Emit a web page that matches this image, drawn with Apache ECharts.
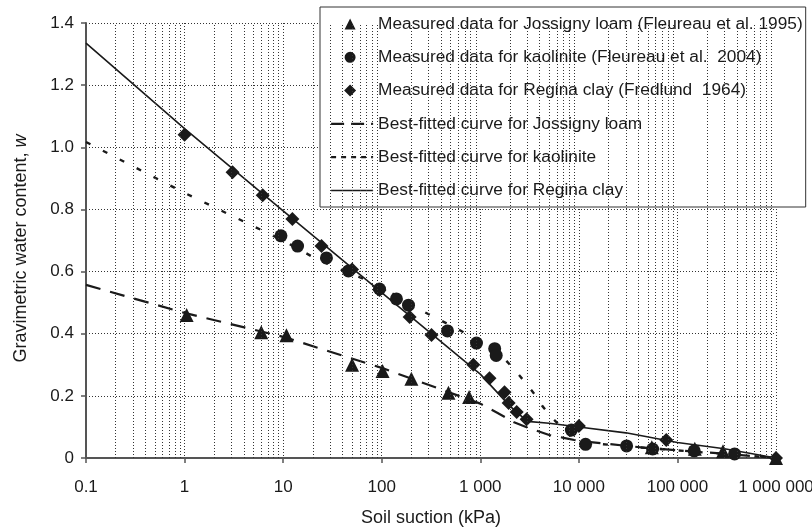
<!DOCTYPE html>
<html>
<head>
<meta charset="utf-8">
<script src="https://cdn.jsdelivr.net/npm/echarts@6/dist/echarts.min.js"></script>
<style>
html,body{margin:0;padding:0;background:#fff;}
#chart{width:812px;height:529px;}
</style>
</head>
<body>
<div id="chart"></div>
<script>
// ---- Data ----
const jossignyX = [1.05, 6, 10.8, 50, 102, 200, 475, 770, 55000, 150000, 290000, 1000000];
const jossignyW = [0.46, 0.405, 0.395, 0.30, 0.28, 0.255, 0.21, 0.196, 0.035, 0.03, 0.022, 0];

const kaoliniteX = [9.5, 14, 27.5, 46, 95, 141, 187, 465, 915, 1400, 1450, 8400, 11700, 30500, 56000, 148000, 380000];
const kaoliniteW = [0.715, 0.682, 0.644, 0.602, 0.544, 0.512, 0.492, 0.409, 0.370, 0.352, 0.330, 0.090, 0.044, 0.039, 0.029, 0.023, 0.013];

const reginaX = [1, 3.07, 6.2, 12.4, 24.5, 50, 95, 192, 320, 850, 1240, 1760, 1940, 2340, 2950, 10000, 77000, 1000000];
const reginaW = [1.04, 0.92, 0.846, 0.769, 0.682, 0.607, 0.541, 0.454, 0.396, 0.30, 0.257, 0.212, 0.177, 0.148, 0.125, 0.103, 0.058, 0];

const fitJossignyX = [0.1, 1, 10, 100, 1000, 1500, 2200, 3000, 5000, 7000, 10000, 20000, 50000, 100000, 250000, 1000000];
const fitJossignyW = [0.557, 0.467, 0.39, 0.29, 0.175, 0.145, 0.115, 0.098, 0.074, 0.065, 0.055, 0.045, 0.032, 0.025, 0.016, 0];

const fitKaoliniteX = [0.1, 1, 10, 20, 35, 70, 100, 225, 615, 1560, 2340, 2880, 3540, 4270, 5400, 8000, 11000, 30000, 60000, 150000, 400000, 1000000];
const fitKaoliniteW = [1.017, 0.853, 0.70, 0.647, 0.611, 0.573, 0.55, 0.483, 0.412, 0.338, 0.276, 0.242, 0.206, 0.167, 0.128, 0.075, 0.05, 0.038, 0.03, 0.02, 0.01, 0];

const fitReginaX = [0.1, 1, 10, 100, 1000, 2000, 3000, 5000, 10000, 30000, 100000, 300000, 1000000];
const fitReginaW = [1.335, 1.06, 0.795, 0.532, 0.27, 0.167, 0.118, 0.112, 0.100, 0.081, 0.05, 0.03, 0];

const xTickValues = [0.1, 1, 10, 100, 1000, 10000, 100000, 1000000];
const xTickLabels = ['0.1', '1', '10', '100', '1 000', '10 000', '100 000', '1 000 000'];

const seriesNames = [
  'Measured data for Jossigny loam (Fleureau et al. 1995)',
  'Measured data for kaolinite (Fleureau et al.  2004)',
  'Measured data for Regina clay (Fredlund  1964)',
  'Best-fitted curve for Jossigny loam',
  'Best-fitted curve for kaolinite',
  'Best-fitted curve for Regina clay'
];

// ---- helpers ----
function pairs(xs, ys) { return xs.map((x, i) => [x, ys[i]]); }
const minorGrid = [];
for (let e = -1; e < 6; e++) {
  for (let m = 2; m <= 9; m++) minorGrid.push({ xAxis: m * Math.pow(10, e) });
}
const FONT = 'Liberation Sans, Arial, sans-serif';
const INK = '#1a1a1a';
const gridDots = { color: '#333', width: 1, type: [1, 2] };
const hiddenSym = { color: 'rgba(0,0,0,0)', borderWidth: 0, opacity: 0 };
// legend icons: a marker inside a 42x12 frame (tiny corner anchors keep the frame size)
const FRAME = ' M0,0 L0.01,0 L0,0.01 Z M42,12 L41.99,12 L42,11.99 Z';
const iconTriangle = 'path://M13.5,11.5 L19,0.5 L24.5,11.5 Z' + FRAME;
const iconCircle = 'path://M13.5,6 A5.5,5.5 0 1 1 24.5,6 A5.5,5.5 0 1 1 13.5,6 Z' + FRAME;
const iconDiamond = 'path://M19,0 L25,6 L19,12 L13,6 Z' + FRAME;

const chart = echarts.init(document.getElementById('chart'), null, { renderer: 'canvas' });
chart.setOption({
  animation: false,
  backgroundColor: '#fff',
  textStyle: { fontFamily: FONT },
  grid: { left: 86, right: 36, top: 23, bottom: 71, containLabel: false, outerBoundsMode: 'none' },
  xAxis: {
    type: 'log', logBase: 10, min: 0.1, max: 1000000, splitNumber: 7,
    name: 'Soil suction (kPa)', nameLocation: 'middle', nameGap: 51,
    nameTextStyle: { fontSize: 18, color: INK, fontFamily: FONT },
    axisLine: { show: true, onZero: false, lineStyle: { color: '#555', width: 2 } },
    axisTick: { show: true, length: 5, lineStyle: { color: '#555', width: 1.5 } },
    axisLabel: {
      fontSize: 17, color: INK, margin: 21, fontFamily: FONT,
      formatter: function (v) {
        for (let i = 0; i < xTickValues.length; i++) {
          if (Math.abs(Math.log10(v) - Math.log10(xTickValues[i])) < 1e-6) return xTickLabels[i];
        }
        return '';
      }
    },
    splitLine: { show: true, lineStyle: gridDots }
  },
  yAxis: {
    type: 'value', min: 0, max: 1.4, interval: 0.2,
    name: '{a|Gravimetric water content, }{b|w}', nameLocation: 'middle', nameGap: 56,
    nameTextStyle: {
      color: INK, fontSize: 18, fontFamily: FONT, padding: [0, 16, 0, 0],
      rich: { a: { fontSize: 18, color: INK, fontFamily: FONT }, b: { fontSize: 18, color: INK, fontStyle: 'italic', fontFamily: FONT } }
    },
    axisLine: { show: true, lineStyle: { color: '#555', width: 2 } },
    axisTick: { show: true, length: 5, lineStyle: { color: '#555', width: 1.5 } },
    axisLabel: {
      fontSize: 17, color: INK, margin: 12, fontFamily: FONT,
      formatter: function (v) { return v === 0 ? '0' : v.toFixed(1); }
    },
    splitLine: { show: true, lineStyle: gridDots }
  },
  legend: {
    orient: 'vertical', left: 320, top: 7,
    padding: [8.5, 3, 8, 10],
    backgroundColor: '#fff', borderColor: '#333', borderWidth: 1, borderRadius: 0,
    itemWidth: 42, itemHeight: 12, itemGap: 16.3, symbolKeepAspect: true,
    textStyle: { fontSize: 17.3, color: INK, fontFamily: FONT, lineHeight: 17 },
    data: [
      { name: seriesNames[0], icon: iconTriangle },
      { name: seriesNames[1], icon: iconCircle },
      { name: seriesNames[2], icon: iconDiamond },
      { name: seriesNames[3], itemStyle: hiddenSym, lineStyle: { type: [13, 7], width: 2.2, color: INK } },
      { name: seriesNames[4], itemStyle: hiddenSym, lineStyle: { type: [5, 5], width: 2.2, color: INK } },
      { name: seriesNames[5], itemStyle: hiddenSym, lineStyle: { type: 'solid', width: 1.6, color: INK } }
    ]
  },
  series: [
    {
      name: 'grid-minor', type: 'line', data: [], z: 1, silent: true,
      markLine: {
        silent: true, symbol: 'none', label: { show: false },
        lineStyle: { color: '#333', width: 1, type: [1, 2] },
        data: minorGrid, animation: false
      }
    },
    {
      name: seriesNames[3], type: 'line', data: pairs(fitJossignyX, fitJossignyW),
      showSymbol: false, symbol: 'none', z: 3,
      lineStyle: { color: INK, width: 2.2, type: [15, 10] }, itemStyle: { color: INK }
    },
    {
      name: seriesNames[4], type: 'line', data: pairs(fitKaoliniteX, fitKaoliniteW),
      showSymbol: false, symbol: 'none', z: 3,
      lineStyle: { color: INK, width: 2.4, type: [5, 14] }, itemStyle: { color: INK }
    },
    {
      name: seriesNames[5], type: 'line', data: pairs(fitReginaX, fitReginaW),
      showSymbol: false, symbol: 'none', z: 3,
      lineStyle: { color: INK, width: 1.6, type: 'solid' }, itemStyle: { color: INK }
    },
    {
      name: seriesNames[0], type: 'scatter', data: pairs(jossignyX, jossignyW),
      symbol: 'triangle', symbolSize: 14, z: 4, itemStyle: { color: INK, opacity: 1 }
    },
    {
      name: seriesNames[1], type: 'scatter', data: pairs(kaoliniteX, kaoliniteW),
      symbol: 'circle', symbolSize: 13, z: 4, itemStyle: { color: INK, opacity: 1 }
    },
    {
      name: seriesNames[2], type: 'scatter', data: pairs(reginaX, reginaW),
      symbol: 'diamond', symbolSize: 14, z: 4, itemStyle: { color: INK, opacity: 1 }
    }
  ]
});
</script>
</body>
</html>
